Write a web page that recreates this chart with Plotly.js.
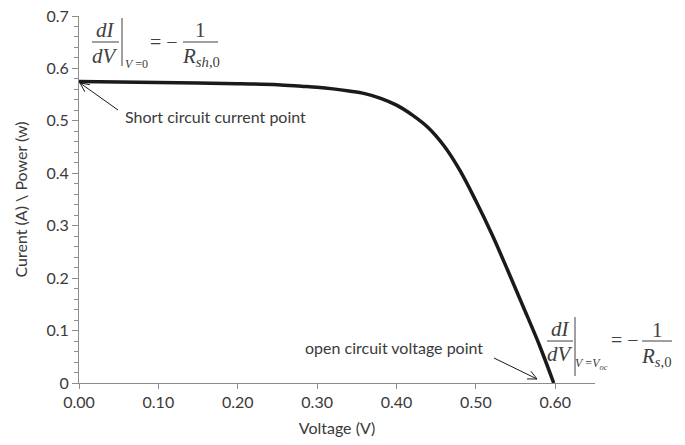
<!DOCTYPE html>
<html><head><meta charset="utf-8">
<script src="https://cdn.plot.ly/plotly-3.0.1.min.js"></script>
<style>html,body{margin:0;padding:0;background:#fff}#c{width:685px;height:445px}</style>
</head><body><div id="c"></div>
<script>
// Data (I-V curve of a solar cell)
var voltage = [0, 0.05, 0.10, 0.15, 0.20, 0.25, 0.28, 0.30, 0.32, 0.34, 0.36, 0.38, 0.40, 0.42, 0.44, 0.46, 0.48, 0.50, 0.52, 0.54, 0.56, 0.58, 0.598];
var current = [0.575, 0.574, 0.573, 0.572, 0.571, 0.569, 0.566, 0.564, 0.561, 0.557, 0.552, 0.543, 0.530, 0.511, 0.487, 0.452, 0.405, 0.347, 0.284, 0.215, 0.144, 0.072, 0];
var xTickVals = [0, 0.1, 0.2, 0.3, 0.4, 0.5, 0.6];
var xTickText = ['0.00', '0.10', '0.20', '0.30', '0.40', '0.50', '0.60'];
var yTickVals = [0, 0.1, 0.2, 0.3, 0.4, 0.5, 0.6, 0.7];
var yTickText = ['0', '0.1', '0.2', '0.3', '0.4', '0.5', '0.6', '0.7'];

var L = 79, T = 16, W = 516, H = 367;
function px(x){ return (x - L) / W; }
function py(y){ return (T + H - y) / H; }

var txt = '#3a3a3a', eq = '#404040', axc = '#8c8c8c';
var serif = 'Liberation Serif, Times New Roman, serif';
var sans = 'Lato, Calibri, sans-serif';

function ann(x, y, text, size, fam, extra){
  var a = {xref:'paper', yref:'paper', x:px(x), y:py(y), text:text, showarrow:false,
    xanchor:'center', yanchor:'middle', font:{family:fam, size:size, color:eq}};
  if (extra) for (var k in extra) a[k] = extra[k];
  return a;
}
function seg(x0, y0, x1, y1, col){
  return {type:'line', xref:'paper', yref:'paper', x0:px(x0), y0:py(y0), x1:px(x1), y1:py(y1),
    line:{color:col || eq, width:1}};
}
// open "V" arrow from tail (tx,ty) to head (hx,hy), pixel coordinates
function arrowShapes(hx, hy, tx, ty){
  var a = Math.atan2(ty - hy, tx - hx), len = 10, spread = 0.45, c = '#1a1a1a';
  return [seg(tx, ty, hx, hy, c),
    seg(hx, hy, hx + len * Math.cos(a + spread), hy + len * Math.sin(a + spread), c),
    seg(hx, hy, hx + len * Math.cos(a - spread), hy + len * Math.sin(a - spread), c)];
}

var annotations = [
  // top-left equation
  ann(105, 30, '<i>dI</i>', 21, serif),
  ann(105, 56, '<i>dV</i>', 21, serif),
  ann(136, 64, '<i>V</i> =0', 12, serif),
  ann(164, 42, '= −', 20, serif),
  ann(200, 30, '1', 21, serif),
  ann(201, 57, '<i>R</i><sub><i>sh</i>,0</sub>', 21, serif),
  // bottom-right equation
  ann(560, 329, '<i>dI</i>', 21, serif),
  ann(560, 354, '<i>dV</i>', 21, serif),
  ann(591, 364, '<i>V</i> =<i>V</i><sub><i>oc</i></sub>', 12, serif),
  ann(625, 340, '= −', 20, serif),
  ann(657, 330, '1', 21, serif),
  ann(656, 357, '<i>R</i><sub><i>s</i>,0</sub>', 21, serif),
  // labels
  ann(123, 117, 'Short circuit current point', 16, sans, {xanchor:'left', font:{family:sans, size:16, color:txt}}),
  ann(485, 347, 'open circuit voltage point', 16, sans, {xanchor:'right', font:{family:sans, size:16, color:txt}})
];

var shapes = [
  seg(92, 42, 119, 42), seg(122, 18, 122, 66), seg(183, 42, 218, 42),
  seg(547, 341, 573, 341), seg(575, 317, 575, 376), seg(642, 341, 672, 341)
].concat(arrowShapes(80, 83, 118, 110), arrowShapes(537, 379, 494, 358));

var trace = {x: voltage, y: current, type:'scatter', mode:'lines',
  line:{color:'#1a1a1a', width:3.5, shape:'spline', smoothing:1}, hoverinfo:'skip', showlegend:false};

var layout = {
  width:685, height:445, margin:{l:L, r:685 - L - W, t:T, b:445 - T - H},
  paper_bgcolor:'#fff', plot_bgcolor:'#fff', showlegend:false,
  font:{family:sans, size:16, color:txt},
  xaxis:{range:[0, 0.65], tickmode:'array', tickvals:xTickVals, ticktext:xTickText,
    showline:true, linecolor:axc, linewidth:1, showgrid:false, zeroline:false,
    ticks:'outside', ticklen:5, tickcolor:axc, tickfont:{family:sans, size:16, color:txt},
    title:{text:'Voltage (V)', font:{family:sans, size:16, color:txt}, standoff:12}},
  yaxis:{range:[0, 0.7], tickmode:'array', tickvals:yTickVals, ticktext:yTickText,
    showline:true, linecolor:axc, linewidth:1, showgrid:false, zeroline:false,
    ticks:'outside', ticklen:6, tickcolor:axc, tickfont:{family:sans, size:16, color:txt},
    minor:{tickmode:'linear', tick0:0, dtick:0.02, ticks:'outside', ticklen:4, tickcolor:axc, showgrid:false},
    title:{text:'Curent (A) \\ Power (w)', font:{family:sans, size:16, color:txt}, standoff:14}},
  annotations:annotations, shapes:shapes
};
Plotly.newPlot('c', [trace], layout, {displayModeBar:false, staticPlot:true});
</script></body></html>
